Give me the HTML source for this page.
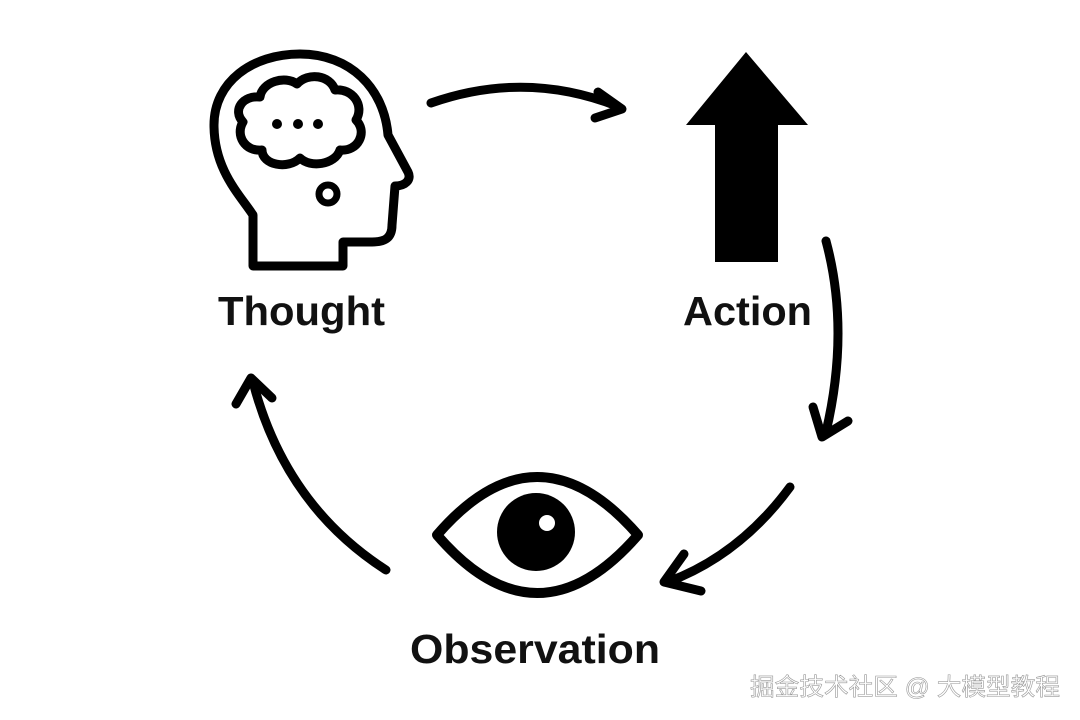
<!DOCTYPE html>
<html><head><meta charset="utf-8"><style>
html,body{margin:0;padding:0;background:#fff;width:1080px;height:720px;overflow:hidden}
svg{display:block}
text{font-family:"Liberation Sans",sans-serif;font-weight:bold;fill:#111}
</style></head><body>
<svg width="1080" height="720" viewBox="0 0 1080 720" xmlns="http://www.w3.org/2000/svg">
<g fill="none" stroke="#000" stroke-width="9" stroke-linecap="round" stroke-linejoin="round">
<path d="M253,266 L253,215 C240,195 214,170 214,125 C214,82 252,54 300,54 C350,54 384,88 388,135 L408,172 C412,180 405,186 395,186 L392,225 C392,238 385,242 372,242 L343,242 L343,266 Z"/>
<path d="M260,97 C262,82 285,75 297,84 C308,72 330,75 335,90 C352,88 365,105 356,120 C368,132 358,152 340,150 C335,165 310,168 300,158 C288,170 262,165 262,150 C245,152 235,135 243,122 C232,110 243,95 260,97 Z"/>
<circle cx="328" cy="194" r="9" stroke-width="7"/>
<path d="M437,535 Q537,419 638,535 Q537,651 437,535 Z" stroke-width="10"/>
<path d="M431,103 Q525,70 617,106"/>
<path d="M598,92 L622,109 L595,118"/>
<path d="M826,241 Q850,330 826,432"/>
<path d="M813,407 L822,437 L848,421"/>
<path d="M790,487 Q740,555 668,582"/>
<path d="M684,554 L664,582 L701,591"/>
<path d="M386,570 Q285,505 253,382"/>
<path d="M236,404 L251,378 L272,398"/>
</g>
<circle cx="277" cy="124" r="5"/><circle cx="298" cy="124" r="5"/><circle cx="318" cy="124" r="5"/>
<polygon points="746,52 686,125 715,125 715,262 778,262 778,125 808,125" fill="#000"/>
<circle cx="536" cy="532" r="39" fill="#000"/>
<circle cx="547" cy="523" r="8" fill="#fff"/>
<text x="218" y="325" font-size="41" textLength="167" lengthAdjust="spacingAndGlyphs">Thought</text>
<text x="683" y="325" font-size="41" textLength="129" lengthAdjust="spacingAndGlyphs">Action</text>
<text x="410" y="663" font-size="41" textLength="250" lengthAdjust="spacingAndGlyphs">Observation</text>
<text x="750" y="695" font-size="24" textLength="310" lengthAdjust="spacingAndGlyphs" style="font-family:'Liberation Sans','Noto Sans CJK SC',sans-serif;font-weight:normal;fill:#fff;stroke:#999;stroke-width:0.6">掘金技术社区 @ 大模型教程</text>
</svg>
</body></html>
